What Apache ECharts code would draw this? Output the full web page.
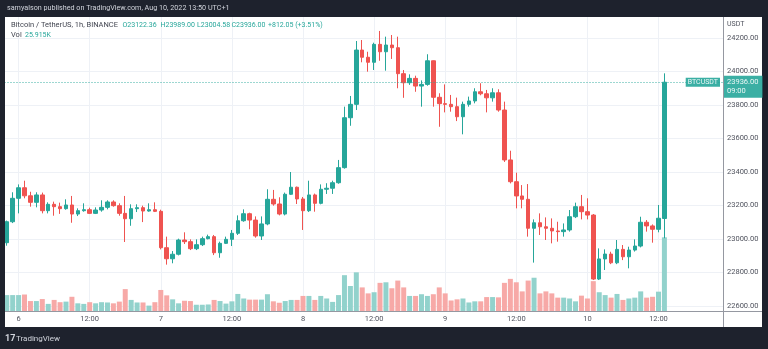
<!DOCTYPE html>
<html>
<head>
<meta charset="utf-8">
<script src="https://cdn.jsdelivr.net/npm/echarts@6/dist/echarts.min.js"></script>
<style>
  html, body { margin: 0; padding: 0; background: #1e222d; overflow: hidden; }
  #panel { position: absolute; left: 5px; top: 17px; width: 757px; height: 310px; background: #ffffff; }
  #chart { position: absolute; left: 0; top: 0; width: 768px; height: 349px; }
</style>
</head>
<body>
<div id="panel"></div>
<div id="chart"></div>
<script>
// BTCUSDT, 1h candles from Aug 5 22:00 to Aug 10 13:00 (UTC+1)
const firstHour = -2; // hours relative to Aug 6 00:00
const openPrices = [
  22978, 23103, 23243, 23306, 23258, 23219, 23263, 23169, 23207, 23193,
  23181, 23203, 23149, 23169, 23175, 23153, 23173, 23189, 23221, 23199,
  23153, 23121, 23181, 23187, 23167, 23175, 23165, 22948, 22882, 22909,
  22994, 22984, 22942, 22966, 23002, 23014, 22918, 22974, 22998, 23034,
  23109, 23151, 23113, 23018, 23090, 23237, 23209, 23149, 23267, 23309,
  23239, 23169, 23263, 23213, 23297, 23303, 23336, 23426, 23724, 23804,
  24128, 24085, 24055, 24162, 24118, 24158, 24142, 23987, 23933, 23959,
  23913, 23923, 24064, 23846, 23808, 23804, 23790, 23730, 23804, 23824,
  23879, 23867, 23843, 23873, 23770, 23472, 23342, 23257, 23237, 23064,
  23097, 23073, 23064, 23048, 23044, 23054, 23133, 23193, 23163, 23143,
  22761, 22881, 22910, 22858, 22938, 22894, 22934, 22958, 23100, 23078,
  23058, 23122.36
];
const highPrices = [
  23110, 23279, 23326, 23348, 23282, 23279, 23277, 23219, 23223, 23217,
  23237, 23257, 23183, 23213, 23187, 23189, 23231, 23231, 23231, 23213,
  23257, 23207, 23207, 23199, 23213, 23219, 23175, 23014, 22928, 23002,
  23040, 22998, 22998, 23014, 23026, 23024, 22984, 23014, 23054, 23141,
  23177, 23157, 23135, 23135, 23297, 23293, 23249, 23277, 23400, 23313,
  23251, 23348, 23271, 23326, 23333, 23348, 23472, 23790, 23854, 24182,
  24188, 24118, 24172, 24242, 24208, 24218, 24208, 24009, 23983, 23975,
  23947, 24103, 24066, 23870, 23923, 23860, 23844, 23820, 23850, 23900,
  23930, 23890, 23900, 23894, 23820, 23527, 23396, 23322, 23328, 23117,
  23153, 23129, 23123, 23103, 23093, 23173, 23217, 23263, 23243, 23149,
  22944, 22938, 22924, 22994, 22964, 22954, 22998, 23133, 23113, 23087,
  23203, 23989.00
];
const lowPrices = [
  22960, 23095, 23153, 23243, 23193, 23189, 23153, 23153, 23139, 23150,
  23175, 23097, 23137, 23163, 23149, 23149, 23163, 23177, 23193, 23139,
  22982, 23079, 23161, 23101, 23163, 23161, 22938, 22847, 22855, 22902,
  22970, 22934, 22934, 22958, 22998, 22904, 22888, 22970, 22958, 23024,
  23103, 23058, 23008, 22994, 23082, 23199, 23141, 23141, 23263, 23209,
  23054, 23161, 23163, 23207, 23269, 23269, 23330, 23420, 23676, 23770,
  24055, 23999, 24009, 24064, 24005, 24075, 23900, 23843, 23920, 23879,
  23790, 23915, 23790, 23670, 23756, 23760, 23704, 23625, 23790, 23810,
  23858, 23756, 23820, 23760, 23460, 23332, 23183, 23183, 23014, 22859,
  23024, 22994, 22974, 22984, 23014, 23044, 23125, 23117, 23117, 22755,
  22755, 22815, 22850, 22850, 22874, 22825, 22925, 22950, 23044, 22978,
  23040, 23004.58
];
const closePrices = [
  23103, 23243, 23306, 23258, 23219, 23263, 23169, 23207, 23193, 23181,
  23203, 23149, 23169, 23175, 23153, 23173, 23189, 23221, 23199, 23153,
  23121, 23181, 23187, 23167, 23175, 23165, 22948, 22882, 22909, 22994,
  22984, 22942, 22966, 23002, 23014, 22918, 22974, 22998, 23034, 23109,
  23151, 23113, 23018, 23090, 23237, 23209, 23149, 23267, 23309, 23239,
  23169, 23263, 23213, 23297, 23303, 23336, 23426, 23724, 23804, 24128,
  24085, 24055, 24162, 24118, 24158, 24142, 23987, 23933, 23959, 23913,
  23923, 24064, 23846, 23808, 23804, 23790, 23730, 23804, 23824, 23879,
  23867, 23843, 23873, 23770, 23472, 23342, 23257, 23237, 23064, 23097,
  23073, 23064, 23048, 23044, 23054, 23133, 23193, 23163, 23143, 22761,
  22881, 22910, 22858, 22938, 22894, 22934, 22958, 23100, 23078, 23058,
  23123.95, 23936.00
];
// volume in thousands of BTC
const volumesK = [
  5.6, 5.6, 5.6, 5.8, 3.5, 3.5, 4.2, 2.5, 3.9, 3.1,
  3.3, 5.0, 2.7, 2.5, 3.1, 2.7, 3.1, 3.0, 2.7, 3.3,
  7.7, 3.9, 3.0, 3.0, 1.9, 3.1, 7.4, 5.5, 4.1, 2.7,
  3.6, 3.5, 2.2, 2.2, 2.3, 3.9, 3.5, 2.6, 3.4, 6.0,
  4.4, 4.0, 4.0, 4.0, 5.9, 3.4, 2.9, 3.5, 3.9, 3.9,
  5.3, 5.3, 3.9, 5.3, 4.4, 3.2, 5.6, 12.6, 8.8, 13.6,
  8.3, 6.2, 6.6, 9.9, 10.1, 8.0, 10.7, 8.3, 5.3, 5.3,
  5.9, 5.3, 5.9, 8.3, 6.2, 3.7, 4.1, 4.4, 3.0, 3.4,
  3.4, 4.9, 4.9, 4.8, 9.9, 11.3, 10.1, 6.9, 10.7, 11.7,
  6.2, 6.9, 6.2, 4.7, 4.7, 4.4, 3.4, 5.4, 4.4, 10.5,
  6.6, 5.6, 4.7, 6.0, 3.9, 4.4, 4.7, 6.9, 4.7, 5.0,
  6.8, 25.915
];
const dayLabels = ['6', '7', '8', '9', '10'];
const symbolName = 'BTCUSDT';
const countdown = '09:00';

const UP = '#26a69a', DOWN = '#ef5350';
const UP_VOL = '#92d2cc', DOWN_VOL = '#f7a9a7';
const FONT = 'Roboto, "DejaVu Sans", sans-serif';

const last = closePrices.length - 1;
const candleData = openPrices.map((o, i) => [firstHour + i, o, closePrices[i], lowPrices[i], highPrices[i]]);
const volumeData = volumesK.map((v, i) => ({
  value: [firstHour + i, v],
  itemStyle: { color: closePrices[i] >= openPrices[i] ? UP_VOL : DOWN_VOL }
}));

const change = closePrices[last] - closePrices[last - 1];
const changePct = change / closePrices[last - 1] * 100;
const sign = change >= 0 ? '+' : '';

// time axis spans from the panel's left edge to the price scale
const xMin = -12, xMax = 118.89, gridLeft = -52.5, gridRight = 45;

const chart = echarts.init(document.getElementById('chart'), null, { renderer: 'canvas' });

const legendFont = '7px ' + FONT;
chart.setOption({
  backgroundColor: 'transparent',
  animation: false,
  textStyle: { fontFamily: FONT },
  grid: [
    { left: gridLeft, right: gridRight, top: 38, bottom: 43, containLabel: false, outerBoundsMode: 'none' },
    { left: gridLeft, right: gridRight, top: 17, bottom: 38, containLabel: false, outerBoundsMode: 'none' }
  ],
  xAxis: [
    {
      type: 'value', gridIndex: 0, min: xMin, max: xMax, interval: 12,
      axisLine: { show: false }, axisTick: { show: false }, axisLabel: { show: false },
      splitLine: { show: false }
    },
    {
      type: 'value', gridIndex: 1, min: xMin, max: xMax, interval: 12,
      axisLine: { show: false }, axisTick: { show: false },
      splitLine: { show: true, lineStyle: { color: '#eef1f6', width: 1 } },
      axisLabel: {
        show: true, margin: 4, fontSize: 7.5, color: '#50535e', fontFamily: FONT,
        showMinLabel: true, showMaxLabel: false,
        formatter: v => (v % 24 === 0 ? dayLabels[v / 24] || '' : '12:00')
      }
    }
  ],
  yAxis: [
    {
      type: 'value', gridIndex: 0, position: 'right', min: 22600, max: 24200, interval: 200,
      axisLine: { show: false }, axisTick: { show: false },
      splitLine: { show: true, lineStyle: { color: '#eef1f6', width: 1 } },
      axisLabel: {
        show: true, margin: 4, fontSize: 7.5, color: '#50535e', fontFamily: FONT,
        formatter: v => v.toFixed(2)
      }
    },
    {
      type: 'value', gridIndex: 1, min: 0, max: 103.4, show: false,
      splitLine: { show: false }
    }
  ],
  series: [
    {
      name: 'Volume', type: 'bar', xAxisIndex: 1, yAxisIndex: 1,
      barWidth: 5, data: volumeData, z: 1, silent: true
    },
    {
      name: symbolName, type: 'candlestick', xAxisIndex: 0, yAxisIndex: 0,
      barWidth: 4, clip: false, z: 3,
      encode: { x: 0, y: [1, 2, 3, 4] },
      data: candleData,
      itemStyle: { color: UP, color0: DOWN, borderColor: UP, borderColor0: DOWN, borderWidth: 1 },
      markLine: {
        symbol: 'none', silent: true, animation: false,
        lineStyle: { color: UP, type: [1, 2], width: 1, opacity: 0.9 },
        data: [
          {
            yAxis: closePrices[last],
            label: {
              show: true, position: 'end', distance: 0,
              formatter: closePrices[last].toFixed(2) + '\n' + countdown,
              backgroundColor: UP, color: '#ffffff', fontSize: 7.5, fontFamily: FONT,
              lineHeight: 8.5, padding: [3, 4, 2, 4], align: 'left',
              offset: [0, 4.5]
            }
          },
          {
            yAxis: closePrices[last],
            lineStyle: { color: 'rgba(0,0,0,0)', width: 0 },
            label: {
              show: true, position: 'insideEnd', distance: 3,
              formatter: symbolName,
              backgroundColor: UP, color: '#ffffff', fontSize: 7, fontFamily: FONT,
              padding: [1, 2, 1, 2]
            }
          }
        ]
      }
    }
  ],
  graphic: [
    // panel frame: left edge cover, price-scale and time-scale separators
    { type: 'rect', z: 100, shape: { x: 0, y: 0, width: 5, height: 349 }, style: { fill: '#1e222d' } },
    { type: 'line', z: 100, shape: { x1: 723.5, y1: 17, x2: 723.5, y2: 327 }, style: { stroke: '#9598a1', lineWidth: 1 } },
    { type: 'line', z: 100, shape: { x1: 5, y1: 311.5, x2: 762, y2: 311.5 }, style: { stroke: '#9598a1', lineWidth: 1 } },
    // currency caption on the price scale
    { type: 'text', z: 100, style: { x: 727, y: 24, text: 'USDT', fill: '#50535e', font: '7px ' + FONT, textVerticalAlign: 'middle' } },
    // publisher line
    { type: 'text', z: 100, style: { x: 7, y: 8.5, text: 'samyalson published on TradingView.com, Aug 10, 2022 13:50 UTC+1', fill: '#d1d4dc', font: '7.2px ' + FONT, textVerticalAlign: 'middle' } },
    // legend
    { type: 'text', z: 100, style: { x: 11, y: 25, text: 'Bitcoin / TetherUS, 1h, BINANCE', fill: '#434651', font: '7.5px ' + FONT, textVerticalAlign: 'middle' } },
    { type: 'text', z: 100, style: { x: 122.5, y: 25, text: 'O' + openPrices[last].toFixed(2), fill: UP, font: legendFont, textVerticalAlign: 'middle' } },
    { type: 'text', z: 100, style: { x: 160.5, y: 25, text: 'H' + highPrices[last].toFixed(2), fill: UP, font: legendFont, textVerticalAlign: 'middle' } },
    { type: 'text', z: 100, style: { x: 197, y: 25, text: 'L' + lowPrices[last].toFixed(2), fill: UP, font: legendFont, textVerticalAlign: 'middle' } },
    { type: 'text', z: 100, style: { x: 231.5, y: 25, text: 'C' + closePrices[last].toFixed(2), fill: UP, font: legendFont, textVerticalAlign: 'middle' } },
    { type: 'text', z: 100, style: { x: 268, y: 25, text: sign + change.toFixed(2) + ' (' + sign + changePct.toFixed(2) + '%)', fill: UP, font: legendFont, textVerticalAlign: 'middle' } },
    { type: 'text', z: 100, style: { x: 11, y: 35, text: 'Vol', fill: '#434651', font: '7.5px ' + FONT, textVerticalAlign: 'middle' } },
    { type: 'text', z: 100, style: { x: 25, y: 35, text: volumesK[last].toFixed(3) + 'K', fill: UP, font: legendFont, textVerticalAlign: 'middle' } },
    // footer brand
    { type: 'text', z: 100, style: { x: 5, y: 338.5, text: '17', fill: '#d1d4dc', font: 'bold 9px ' + FONT, textVerticalAlign: 'middle' } },
    { type: 'text', z: 100, style: { x: 16, y: 338.5, text: 'TradingView', fill: '#d1d4dc', font: '8px ' + FONT, textVerticalAlign: 'middle' } }
  ]
});
</script>
</body>
</html>
